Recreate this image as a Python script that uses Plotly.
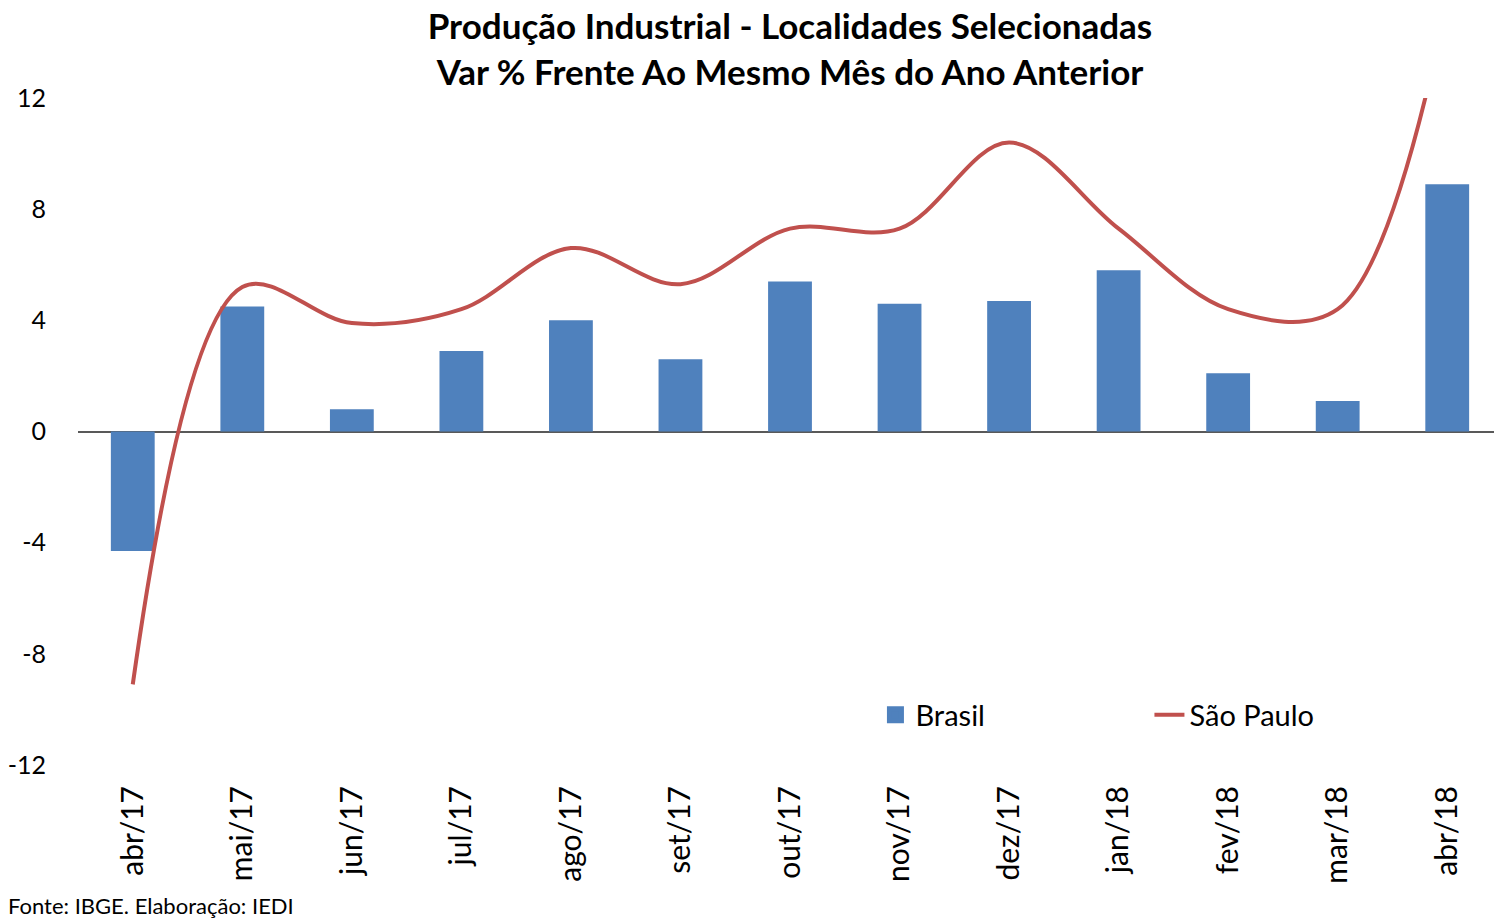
import plotly.graph_objects as go

categories = ["abr/17", "mai/17", "jun/17", "jul/17", "ago/17", "set/17", "out/17",
              "nov/17", "dez/17", "jan/18", "fev/18", "mar/18", "abr/18"]
brasil = [-4.3, 4.5, 0.8, 2.9, 4.0, 2.6, 5.4, 4.6, 4.7, 5.8, 2.1, 1.1, 8.9]
sao_paulo = [-9.1, 5.2, 3.9, 4.4, 6.6, 5.3, 7.3, 7.3, 10.4, 7.3, 4.4, 4.4, 15.5]
y_ticks = [-12, -8, -4, 0, 4, 8, 12]
y_tick_text = ["-12", "-8", "-4", "0", "4", "8", "12"]

FONT = "Lato"
BAR_COLOR = "#4F81BD"
LINE_COLOR = "#C0504D"

# page is offset by the browser's default 8px body margin
W, H = 1494, 912
L, T, B = 70, 90, 155
PH = H - T - B
PW = W - L

fig = go.Figure()
fig.add_trace(go.Bar(x=categories, y=brasil, name="Brasil", showlegend=False,
                     marker=dict(color=BAR_COLOR, line=dict(width=0))))
# legend-only proxy for the bar series (larger legend swatch)
fig.add_trace(go.Bar(x=[categories[0]], y=[None], name="Brasil", showlegend=True,
                     marker=dict(color=BAR_COLOR, line=dict(color=BAR_COLOR, width=7)),
                     hoverinfo="skip"))
fig.add_trace(go.Scatter(x=categories, y=sao_paulo, name="São Paulo", mode="lines",
                         line=dict(color=LINE_COLOR, width=4, shape="spline", smoothing=1.0)))

fig.update_layout(
    width=W, height=H,
    paper_bgcolor="white", plot_bgcolor="white",
    margin=dict(l=L, r=0, t=T, b=B, autoexpand=False),
    bargap=0.6, barmode="overlay",
    font=dict(family=FONT, color="black"),
    title=dict(text="<b>Produção Industrial - Localidades Selecionadas<br>Var % Frente Ao Mesmo Mês do Ano Anterior</b>",
               x=0.5, xanchor="center", xref="paper", yref="container", y=0.966, yanchor="top",
               font=dict(size=35, family=FONT, color="black")),
    showlegend=True,
    legend=dict(orientation="h", x=0.560, y=0.075, xanchor="left", yanchor="middle",
                bgcolor="rgba(0,0,0,0)", font=dict(size=29, family=FONT, color="black"),
                entrywidth=229, entrywidthmode="pixels", traceorder="normal"),
    xaxis=dict(type="category", tickangle=-90, tickfont=dict(size=30, family=FONT),
               showgrid=False, showline=False, ticks="outside", ticklen=8,
               tickcolor="rgba(0,0,0,0)", automargin=False),
    yaxis=dict(range=[-12, 12], tickvals=y_ticks, ticktext=y_tick_text,
               showgrid=False, showline=False,
               zeroline=True, zerolinecolor="#595959", zerolinewidth=2,
               tickfont=dict(size=25, family=FONT), ticks="outside", ticklen=26,
               tickcolor="rgba(0,0,0,0)", automargin=False),
    annotations=[dict(text="Fonte: IBGE. Elaboração: IEDI", xref="paper", yref="paper",
                      x=-L / PW, y=-(B + 1) / PH, xanchor="left", yanchor="bottom",
                      showarrow=False, xshift=-2,
                      font=dict(size=22, family=FONT, color="black"))],
)

fig.write_html("out.html")
